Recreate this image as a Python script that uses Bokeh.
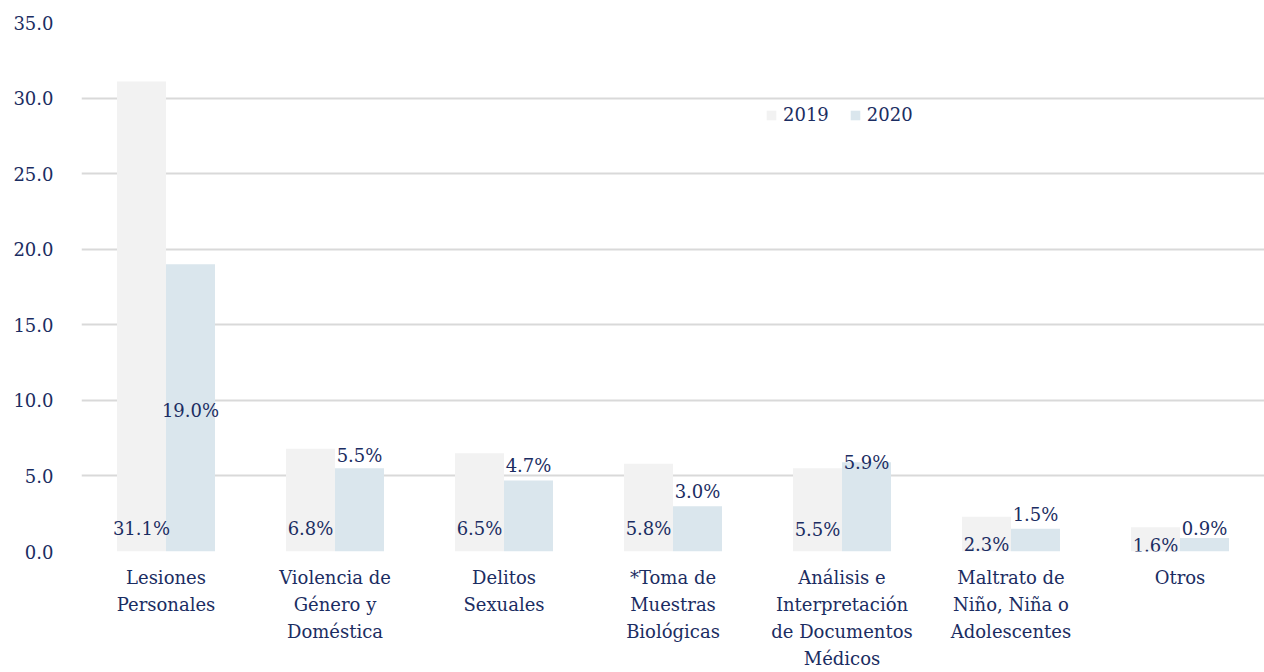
from bokeh.plotting import figure
from bokeh.models import ColumnDataSource, FactorRange, Legend, LegendItem, NumeralTickFormatter, SingleIntervalTicker, LabelSet
from bokeh.transform import dodge
from bokeh.core.properties import value
from bokeh.embed import file_html
from bokeh.resources import INLINE

categories = [
    "Lesiones\nPersonales",
    "Violencia de\nGénero y\nDoméstica",
    "Delitos\nSexuales",
    "*Toma de\nMuestras\nBiológicas",
    "Análisis e\nInterpretación\nde Documentos\nMédicos",
    "Maltrato de\nNiño, Niña o\nAdolescentes",
    "Otros",
]
values_2019 = [31.1, 6.8, 6.5, 5.8, 5.5, 2.3, 1.6]
values_2020 = [19.0, 5.5, 4.7, 3.0, 5.9, 1.5, 0.9]
series_names = ["2019", "2020"]

# label pixel offsets (positive = up)
dy_2019 = [23, 23, 23, 23, 22, 7, 6]
dy_2020 = [-146, 13, 15, 15, 0, 14, 9]

NAVY = "#1b2d62"
FONT = "DejaVu Serif"
C19 = "#f2f2f2"
C20 = "#dae6ed"

src = ColumnDataSource(dict(
    cat=categories,
    v19=values_2019,
    v20=values_2020,
    zero=[0] * len(categories),
    l19=[f"{v:.1f}%" for v in values_2019],
    l20=[f"{v:.1f}%" for v in values_2020],
    dy19=dy_2019,
    dy20=dy_2020,
))

p = figure(
    x_range=FactorRange(factors=categories, range_padding=0),
    y_range=(0, 35),
    width=1264, height=672,
    output_backend="svg", toolbar_location=None,
    min_border_left=81, min_border_right=0, min_border_top=22, min_border_bottom=121,
)
p.outline_line_color = None
p.background_fill_color = "white"
p.border_fill_color = "white"

r19 = p.vbar(x=dodge("cat", -0.145, range=p.x_range), top="v19", width=0.29,
             source=src, fill_color=C19, line_color=None)
r20 = p.vbar(x=dodge("cat", 0.145, range=p.x_range), top="v20", width=0.29,
             source=src, fill_color=C20, line_color=None)

lab19 = LabelSet(x=dodge("cat", -0.145, range=p.x_range), y="zero", text="l19", y_offset="dy19",
                 source=src, text_align="center", text_baseline="middle",
                 text_font=value(FONT), text_font_size=value("18px"), text_color=value(NAVY))
lab20 = LabelSet(x=dodge("cat", 0.145, range=p.x_range), y="v20", text="l20", y_offset="dy20",
                 source=src, text_align="center", text_baseline="middle",
                 text_font=value(FONT), text_font_size=value("18px"), text_color=value(NAVY))
p.add_layout(lab19)
p.add_layout(lab20)

# axes
p.yaxis.ticker = SingleIntervalTicker(interval=5)
p.yaxis.formatter = NumeralTickFormatter(format="0.0")
p.yaxis.axis_line_color = None
p.yaxis.major_tick_line_color = None
p.yaxis.minor_tick_line_color = None
p.yaxis.major_label_standoff = 22
p.yaxis.major_label_text_font = FONT
p.yaxis.major_label_text_font_size = "18px"
p.yaxis.major_label_text_color = NAVY

p.xaxis.axis_line_color = None
p.xaxis.major_tick_line_color = None
p.xaxis.minor_tick_line_color = None
p.xaxis.major_tick_out = 0
p.xaxis.major_tick_in = 0
p.xaxis.major_label_standoff = 15
p.xaxis.major_label_text_font = FONT
p.xaxis.major_label_text_font_size = "18px"
p.xaxis.major_label_text_color = NAVY
p.xaxis.major_label_text_line_height = 1.3
p.xaxis.major_label_orientation = "horizontal"

p.xgrid.grid_line_color = None
p.ygrid.grid_line_color = "#d9d9d9"
p.ygrid.grid_line_width = 2

legend = Legend(
    items=[LegendItem(label=series_names[0], renderers=[r19]),
           LegendItem(label=series_names[1], renderers=[r20])],
    orientation="horizontal",
    location=(684, 426),
    padding=0, margin=0, spacing=20,
    glyph_width=12, glyph_height=12, label_standoff=6,
    label_text_font=FONT, label_text_font_size="18px", label_text_color=NAVY,
    background_fill_alpha=0, border_line_color=None,
)
p.add_layout(legend, "center")

open("out.html", "w").write(file_html(p, INLINE))
